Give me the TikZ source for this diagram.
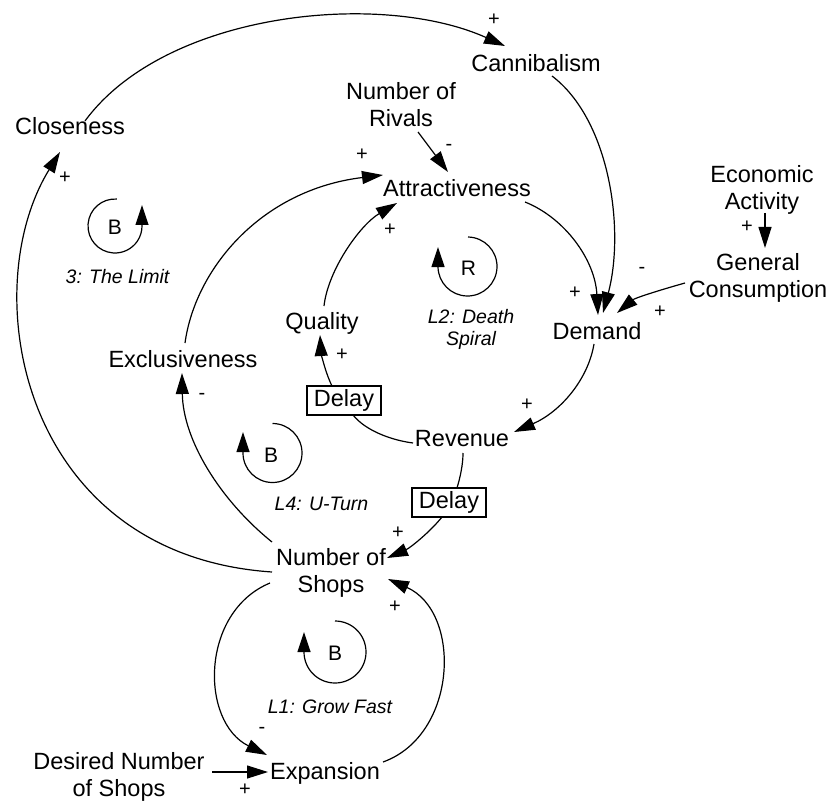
\documentclass[tikz,border=0pt]{standalone}
\usepackage{fontspec}
\setmainfont{Liberation Sans}
\usetikzlibrary{arrows.meta,calc}

\begin{document}
\begin{tikzpicture}[x=1pt,y=1pt,
  varone/.style={font=\fontsize{23.5}{27}\selectfont, inner sep=0pt, anchor=base},
  vartwo/.style={font=\fontsize{23.5}{27}\selectfont, inner sep=0pt, align=center},
  delaybox/.style={draw, line width=1.2pt, font=\fontsize{23.5}{27}\selectfont, inner sep=0pt,
                   minimum width=74pt, minimum height=29pt},
  link/.style={line width=1.2pt, -{Triangle[length=21pt,width=13pt]}},
  plain/.style={line width=1.2pt},
  pol/.style={font=\fontsize{20}{20}\selectfont, inner sep=0pt},
  looplbl/.style={font=\fontsize{19.5}{22}\selectfont\itshape, inner sep=0pt},
  loopletter/.style={font=\fontsize{21}{21}\selectfont, inner sep=0pt, anchor=base},
  looparc/.style={line width=1.2pt, -{Triangle[length=20pt,width=13pt]}}
]
\useasboundingbox (0,0) rectangle (829,-802);

% ---- variables ----
\node[varone] (cann) at (536,-72) {Cannibalism};
\node[varone] (clos) at (70,-135) {Closeness};
\node[vartwo] (rivals) at (401,-105) {Number of\\Rivals};
\node[varone] (attr) at (457,-197) {Attractiveness};
\node[vartwo] (econ) at (762,-189.5) {Economic\\Activity};
\node[vartwo] (gencons) at (758,-277.5) {General\\Consumption};
\node[varone] (demand) at (597,-339) {Demand};
\node[varone] (quality) at (322,-329) {Quality};
\node[varone] (excl) at (183,-367) {Exclusiveness};
\node[delaybox] (delay1) at (344,-400.5) {Delay};
\node[varone] (revenue) at (462,-446) {Revenue};
\node[delaybox] (delay2) at (449,-502.5) {Delay};
\node[vartwo] (shops) at (331,-572.5) {Number of\\Shops};
\node[varone] (expansion) at (325,-779) {Expansion};
\node[vartwo] (desired) at (119,-776.5) {Desired Number\\of Shops};

% ---- causal links ----
\draw[link] ($(clos.base)+(15,14)$) .. controls (165,-12) and (380,10) .. ($(cann.base)+(-31,26)$);
\draw[link] ($(cann.base)+(16,-4)$) .. controls (610,-120) and (625,-230) .. ($(demand.base)+(6,26)$);
\draw[link] ($(attr.base)+(68,-5)$) .. controls (565,-218) and (595,-260) .. ($(demand.base)+(1,24)$);
\draw[link] ($(gencons)+(-73,-5.5)$) .. controls (660,-290) and (635,-298) .. ($(demand.base)+(20,26)$);
\draw[link] ($(econ)+(3,-23.5)$) -- ($(gencons)+(7,29.5)$);
\draw[link] ($(rivals)+(17,-27)$) -- ($(attr.base)+(-9,25)$);
\draw[link] ($(demand.base)+(-3,-5)$) .. controls (588,-380) and (560,-412) .. ($(revenue.base)+(52,14)$);
\draw[plain] ($(revenue.base)+(-49,3)$) .. controls (390,-440) and (365,-430) .. ($(delay1)+(9,-14.5)$);
\draw[link] ($(delay1)+(-12,14.5)$) .. controls (325,-372) and (321,-352) .. ($(quality.base)+(-2,-6)$);
\draw[link] ($(quality.base)+(2,23)$) .. controls (328,-270) and (360,-225) .. ($(attr.base)+(-60,-6)$);
\draw[plain] ($(revenue.base)+(1,-7)$) .. controls (463,-465) and (460,-478) .. ($(delay2)+(8,14.5)$);
\draw[link] ($(delay2)+(-7,-14.5)$) .. controls (430,-532) and (410,-548) .. ($(shops)+(56,14.5)$);
\draw[link] ($(shops)+(-59,30.5)$) .. controls (220,-500) and (183,-440) .. ($(excl.base)+(-1,-6)$);
\draw[link] ($(excl.base)+(2,24)$) .. controls (195,-270) and (260,-190) .. ($(attr.base)+(-74,22)$);
\draw[link] ($(shops)+(-59,0.5)$) .. controls (20,-555) and (-25,-290) .. ($(clos.base)+(-10,-17)$);
\draw[link] ($(shops)+(-61,-10.5)$) .. controls (200,-612) and (200,-722) .. ($(expansion.base)+(-58,24)$);
\draw[link] ($(expansion.base)+(58,17)$) .. controls (458,-735) and (462,-612) .. ($(shops)+(57,-6.5)$);
\draw[link] ($(desired)+(93,4.5)$) -- ($(expansion.base)+(-57,7)$);

% ---- link polarities ----
\node[pol] (p1) at (494,-20) {+};
\node[pol] (p2) at (65,-178) {+};
\node[pol] (p3) at (449,-147) {-};
\node[pol] (p4) at (362,-155) {+};
\node[pol] (p5) at (390,-230) {+};
\node[pol] (p6) at (575,-293) {+};
\node[pol] (p7) at (642,-270) {-};
\node[pol] (p8) at (660,-312) {+};
\node[pol] (p9) at (747,-227) {+};
\node[pol] (p10) at (342,-355) {+};
\node[pol] (p11) at (527,-405) {+};
\node[pol] (p12) at (202,-396) {-};
\node[pol] (p13) at (398,-533) {+};
\node[pol] (p14) at (395,-607) {+};
\node[pol] (p15) at (262,-730) {-};
\node[pol] (p16) at (245,-790) {+};

% ---- loop markers ----
\draw[looparc] (115,-226) ++(86:27) arc[start angle=86, end angle=360, radius=27] -- ++(0,21);
\node[loopletter] (lb3) at (115,-235) {B};
\node[looplbl, anchor=base] (ll3) at (117.5,-283) {3: The Limit};

\draw[looparc] (467.5,-266.5) ++(89:29.5) arc[start angle=89, end angle=-180, radius=29.5] -- ++(0,19.5);
\node[loopletter] (lr2) at (468.5,-275) {R};
\node[looplbl, align=center] (ll2) at (471,-329) {L2: Death\\Spiral};

\draw[looparc] (272.5,-453) ++(90:29.5) arc[start angle=90, end angle=-180, radius=29.5] -- ++(0,21);
\node[loopletter] (lb4) at (271,-462) {B};
\node[looplbl, anchor=base] (ll4) at (321.5,-510) {L4: U-Turn};

\draw[looparc] (335,-652) ++(90:31) arc[start angle=90, end angle=-180, radius=31] -- ++(0,20);
\node[loopletter] (lb1) at (335,-660) {B};
\node[looplbl, anchor=base] (ll1) at (330,-713) {L1: Grow Fast};
\end{tikzpicture}
\end{document}
